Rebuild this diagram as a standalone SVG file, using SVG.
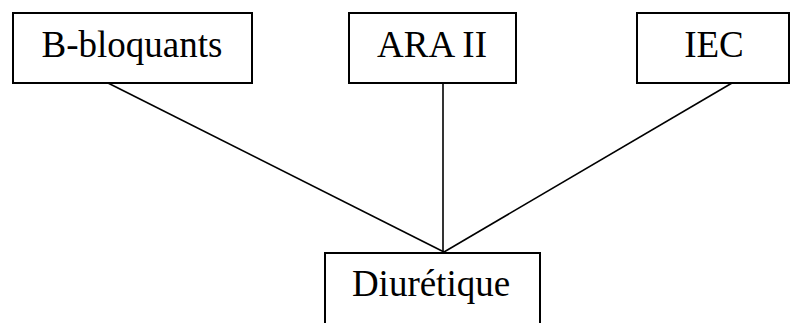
<svg xmlns="http://www.w3.org/2000/svg" width="791" height="323" viewBox="0 0 791 323">
<style>
.box{fill:#fff;stroke:#000;stroke-width:2}
.lbl{font-family:"Liberation Serif","Times New Roman",serif;font-size:37px;fill:#000;text-anchor:middle}
.con line{stroke:#000;stroke-width:1.6}
</style>
<g id="connectors" class="con">
<line x1="108" y1="83" x2="444" y2="252"/>
<line x1="443" y1="83" x2="443" y2="252"/>
<line x1="732" y1="83" x2="444" y2="252"/>
</g>
<g id="b-bloquants"><rect class="box" x="13" y="13" width="239" height="70"/><text class="lbl" x="132" y="57">B-bloquants</text></g>
<g id="ara-ii"><rect class="box" x="349" y="13" width="167" height="70"/><text class="lbl" x="432" y="57">ARA II</text></g>
<g id="iec"><rect class="box" x="637" y="13" width="152" height="70"/><text class="lbl" x="714" y="57">IEC</text></g>
<g id="diuretique"><rect class="box" x="325" y="253" width="215" height="90"/><text class="lbl" x="431" y="296">Diurétique</text></g>
</svg>
